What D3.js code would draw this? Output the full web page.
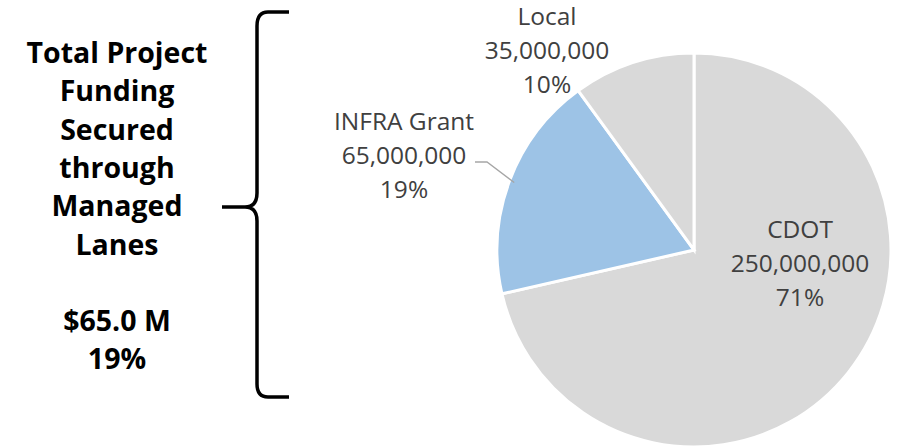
<!DOCTYPE html>
<html>
<head>
<meta charset="utf-8">
<script src="https://cdn.jsdelivr.net/npm/d3@7"></script>
<style>
  body { margin: 0; background: #fff; }
  svg { display: block; }
</style>
</head>
<body>
<div id="chart"></div>
<script>
var categories = ["CDOT", "INFRA Grant", "Local"];
var amounts = [250000000, 65000000, 35000000];
var sliceColors = ["#d9d9d9", "#9dc3e6", "#d9d9d9"];
var sideLines = ["Total Project", "Funding", "Secured", "through", "Managed", "Lanes", "", "$65.0 M", "19%"];

var width = 897, height = 448;
var cx = 694, cy = 250, radius = 197;

var svg = d3.select("#chart").append("svg")
    .attr("width", width)
    .attr("height", height);

var data = categories.map(function(c, i) { return {name: c, value: amounts[i], color: sliceColors[i]}; });
var total = d3.sum(amounts);

var pie = d3.pie().sort(null).value(function(d) { return d.value; });
var arc = d3.arc().innerRadius(0).outerRadius(radius);

var g = svg.append("g").attr("transform", "translate(" + cx + "," + cy + ")");

g.selectAll("path")
    .data(pie(data))
    .enter()
    .append("path")
    .attr("d", arc)
    .attr("fill", function(d) { return d.data.color; })
    .attr("stroke", "#fff")
    .attr("stroke-width", 3)
    .attr("stroke-linejoin", "miter");

// label positions (centre of the text block, relative to pie centre)
var labelPos = [[106, 13], [-290, -95], [-147, -200]];
var fmt = d3.format(",");

var labels = g.selectAll("text.lbl")
    .data(pie(data))
    .enter()
    .append("text")
    .attr("class", "lbl")
    .attr("text-anchor", "middle")
    .attr("font-family", "'Open Sans', 'Noto Sans', sans-serif")
    .attr("font-size", 24.5)
    .attr("fill", "#404040")
    .attr("transform", function(d, i) { return "translate(" + labelPos[i][0] + "," + labelPos[i][1] + ")"; });

labels.each(function(d) {
  var t = d3.select(this);
  var lines = [d.data.name, fmt(d.data.value), Math.round(d.data.value / total * 100) + "%"];
  lines.forEach(function(l, j) {
    t.append("tspan").attr("x", 0).attr("y", (j - 1) * 34 + 9).text(l);
  });
});

// leader line for INFRA Grant
var infra = pie(data)[1];
var mid = (infra.startAngle + infra.endAngle) / 2;
var edge = [Math.sin(mid) * (radius - 5), -Math.cos(mid) * (radius - 5)];
g.append("polyline")
    .attr("points", [[-219, -88], [-207, -88], edge].map(function(p) { return p.join(","); }).join(" "))
    .attr("fill", "none")
    .attr("stroke", "#a6a6a6")
    .attr("stroke-width", 1.3);

// side text
var side = svg.append("text")
    .attr("text-anchor", "middle")
    .attr("font-family", "'Open Sans', 'Noto Sans', sans-serif")
    .attr("font-weight", "bold")
    .attr("font-size", 28.5)
    .attr("fill", "#000");

sideLines.forEach(function(l, i) {
  side.append("tspan").attr("x", 117).attr("y", 63 + i * 38.3).text(l);
});

// curly brace
var brace = d3.path();
brace.moveTo(289, 12);
brace.lineTo(268, 12);
brace.quadraticCurveTo(257, 12, 257, 26);
brace.lineTo(257, 193);
brace.quadraticCurveTo(257, 207, 245, 207);
brace.lineTo(222, 207);
brace.moveTo(245, 207);
brace.quadraticCurveTo(257, 207, 257, 221);
brace.lineTo(257, 384);
brace.quadraticCurveTo(257, 397, 268, 397);
brace.lineTo(289, 397);
svg.append("path")
    .attr("d", brace.toString())
    .attr("fill", "none")
    .attr("stroke", "#000")
    .attr("stroke-width", 3.5);
</script>
</body>
</html>
